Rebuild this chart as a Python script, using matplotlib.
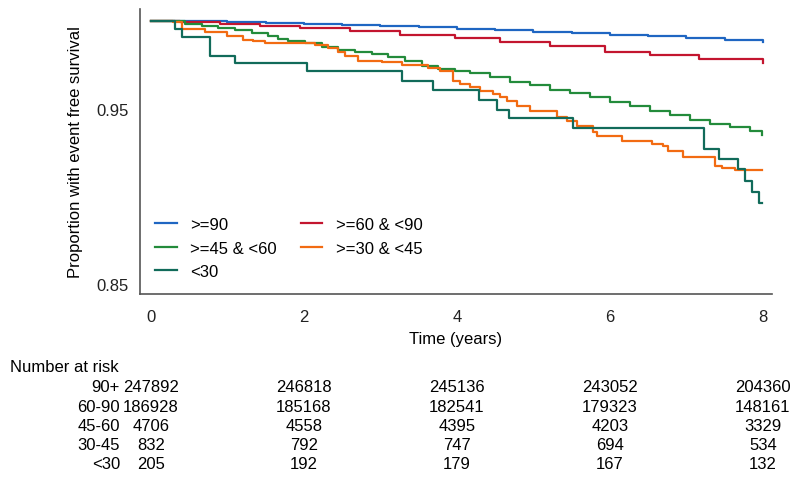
import matplotlib.pyplot as plt
import matplotlib.transforms as mtrans

plt.rcParams['font.family'] = ['Liberation Sans', 'DejaVu Sans']

# Kaplan-Meier curves (time in years, survival)
t_90 = [0, 0.5, 1.0, 1.5, 2.0, 2.5, 3.0, 3.5, 4.0, 4.5, 5.0, 5.5, 6.0, 6.5, 7.0, 7.5, 8.0]
s_90 = [1.0, 0.99966, 0.99926, 0.99869, 0.99812, 0.99755, 0.99698, 0.99624, 0.99544,
        0.99453, 0.99373, 0.99299, 0.99214, 0.99128, 0.99031, 0.98929, 0.98815]

t_60 = [0, 0.38, 0.90, 1.42, 1.95, 2.60, 3.25, 3.97, 4.56, 5.22, 5.93, 6.52, 7.17, 8.0]
s_60 = [1.0, 0.99943, 0.99812, 0.99698, 0.99584, 0.99413, 0.99214, 0.98997, 0.98787,
        0.98559, 0.98234, 0.98046, 0.97846, 0.97573]

t_45 = [0, 0.314, 0.444, 0.667, 0.876, 1.098, 1.320, 1.529, 1.660, 1.791, 2.013, 2.235,
        2.444, 2.667, 2.889, 3.098, 3.320, 3.542, 3.752, 3.974, 4.170, 4.431, 4.693, 4.954,
        5.216, 5.477, 5.739, 6.0, 6.261, 6.523, 6.784, 7.046, 7.307, 7.569, 7.830, 7.987]
s_45 = [1.0, 0.99980, 0.99812, 0.99681, 0.99567, 0.99487, 0.99299, 0.99145, 0.98957,
        0.98826, 0.98712, 0.98484, 0.98330, 0.98234, 0.98103, 0.97915, 0.97721, 0.97436,
        0.97248, 0.97151, 0.97020, 0.96775, 0.96524, 0.96336, 0.96068, 0.95863, 0.95635,
        0.95385, 0.95157, 0.94872, 0.94627, 0.94359, 0.94114, 0.93926, 0.93732, 0.93487]

t_30 = [0, 0.288, 0.405, 0.706, 0.993, 1.203, 1.333, 1.490, 2.144, 2.314, 2.444, 2.536,
        2.706, 3.020, 3.281, 3.621, 3.778, 3.948, 4.039, 4.170, 4.301, 4.471, 4.562, 4.654,
        4.784, 4.954, 5.307, 5.438, 5.569, 5.778, 5.830, 6.157, 6.549, 6.693, 6.758, 6.954,
        7.373, 7.464, 7.634, 7.987]
s_30 = [1.0, 0.99909, 0.99527, 0.99339, 0.99145, 0.98917, 0.98860, 0.98712, 0.98615,
        0.98427, 0.98199, 0.98006, 0.97721, 0.97664, 0.97476, 0.97288, 0.97134, 0.96581,
        0.96393, 0.96205, 0.96011, 0.95823, 0.95635, 0.95442, 0.95123, 0.94872, 0.94496,
        0.94302, 0.94017, 0.93641, 0.93413, 0.93162, 0.92974, 0.92843, 0.92593, 0.92217,
        0.91738, 0.91590, 0.91510, 0.91510]

t_lt30 = [0, 0.314, 0.405, 0.771, 1.098, 2.039, 3.281, 3.686, 4.288, 4.523, 4.680, 5.516,
          7.229, 7.425, 7.673, 7.765, 7.856, 7.948, 7.987]
s_lt30 = [1.0, 0.99527, 0.99054, 0.98006, 0.97573, 0.97151, 0.96581, 0.96068, 0.95510,
          0.94940, 0.94439, 0.93869, 0.92718, 0.92148, 0.91550, 0.90883, 0.90256, 0.89613,
          0.89613]

# Number at risk table
risk_times = [0, 2, 4, 6, 8]
risk_labels = ['90+', '60-90', '45-60', '30-45', '<30']
risk_90 = [247892, 246818, 245136, 243052, 204360]
risk_60 = [186928, 185168, 182541, 179323, 148161]
risk_45 = [4706, 4558, 4395, 4203, 3329]
risk_30 = [832, 792, 747, 694, 534]
risk_lt30 = [205, 192, 179, 167, 132]

fs = 12

fig = plt.figure(figsize=(8, 4.81), dpi=100)
ax = fig.add_axes([0.175, 0.3867, 0.79, 0.5925])

lw = 1.6
h90, = ax.plot(t_90, s_90, drawstyle='steps-post', color='#1f66c2', lw=lw, label='>=90')
h60, = ax.plot(t_60, s_60, drawstyle='steps-post', color='#c3152f', lw=lw, label='>=60 & <90')
h45, = ax.plot(t_45, s_45, drawstyle='steps-post', color='#238b3b', lw=lw, label='>=45 & <60')
h30, = ax.plot(t_30, s_30, drawstyle='steps-post', color='#f26b12', lw=lw, label='>=30 & <45')
hlt, = ax.plot(t_lt30, s_lt30, drawstyle='steps-post', color='#116b5a', lw=lw, label='<30')

ax.set_xlim(-0.144, 8.12)
ax.set_ylim(0.8443, 1.0067)
ax.set_xticks([0, 2, 4, 6, 8])
ax.set_yticks([0.95, 0.85])
ax.set_yticklabels(['0.95', '0.85'])
ax.tick_params(length=0, labelsize=fs, pad=8, colors='#222222')
ax.tick_params(axis='x', pad=11)
ax.spines['top'].set_visible(False)
ax.spines['right'].set_visible(False)
for s in ['left', 'bottom']:
    ax.spines[s].set_color('#555555')
    ax.spines[s].set_linewidth(1.2)

ax.set_xlabel('Time (years)', fontsize=fs, labelpad=5)
ax.set_ylabel('Proportion with event free survival', fontsize=fs, labelpad=10)

ax.legend(handles=[h90, h45, hlt, h60, h30], ncol=2, frameon=False, fontsize=fs,
          loc='lower left', bbox_to_anchor=(0.0, 0.0), handlelength=1.3,
          handletextpad=0.8, columnspacing=1.45, labelspacing=0.5)

# Number at risk
fig.text(10 / 800, 0.237, 'Number at risk', fontsize=fs, va='center', ha='left')
row_y = [0.1934, 0.1538, 0.1123, 0.0728, 0.0333]
rows = [risk_90, risk_60, risk_45, risk_30, risk_lt30]
blend = mtrans.blended_transform_factory(ax.transData, fig.transFigure)
for lab, yy, vals in zip(risk_labels, row_y, rows):
    fig.text(120 / 800, yy, lab, fontsize=fs, va='center', ha='right')
    for t, v in zip(risk_times, vals):
        ax.text(t, yy, str(v), transform=blend, fontsize=fs, va='center', ha='center',
                clip_on=False)

fig.savefig('out.png', dpi=100)
